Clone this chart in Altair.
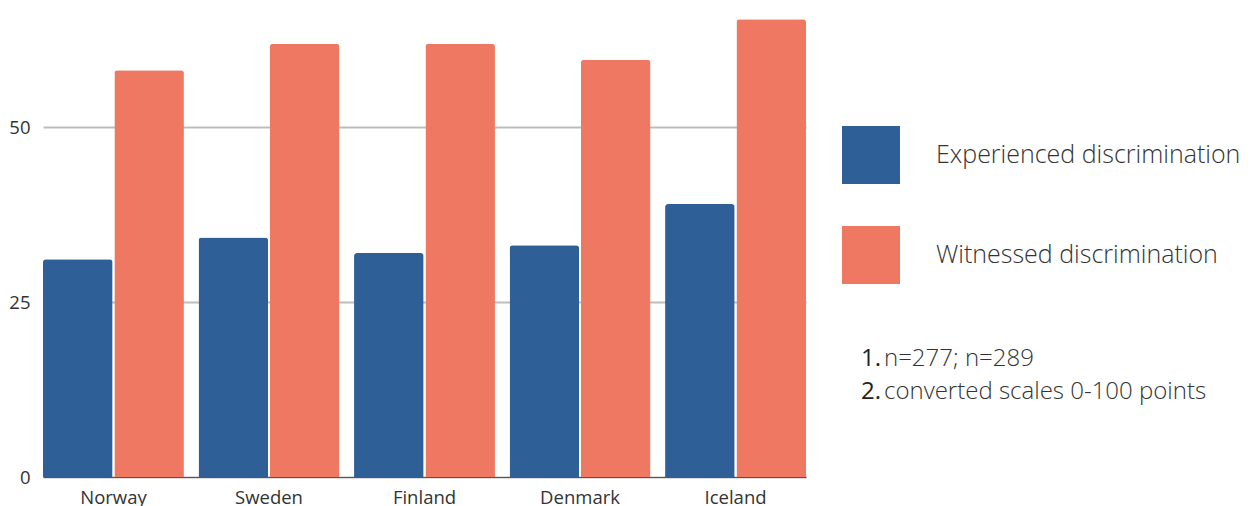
import altair as alt
import pandas as pd

countries = ["Norway", "Sweden", "Finland", "Denmark", "Iceland"]
series = ["Experienced discrimination", "Witnessed discrimination"]
experienced = [31.1, 34.2, 32.0, 33.1, 39.0]
witnessed = [58.1, 61.9, 61.9, 59.6, 65.4]
colors = ["#2e5f97", "#ef7862"]
y_ticks = [0, 25, 50]
footnote_nums = ["1.", "2."]
footnote_texts = ["n=277; n=289", "converted scales 0-100 points"]

rows = []
for c, e, w in zip(countries, experienced, witnessed):
    rows.append({"country": c, "series": series[0], "value": e})
    rows.append({"country": c, "series": series[1], "value": w})
df = pd.DataFrame(rows)

FONT = "Open Sans"

bars = alt.Chart(df).mark_bar(cornerRadiusTopLeft=3, cornerRadiusTopRight=3).encode(
    x=alt.X("country:N", sort=countries,
            scale=alt.Scale(paddingInner=0.094, paddingOuter=0),
            axis=alt.Axis(title=None, labelAngle=0, labelFontSize=18.5, labelColor="#333333",
                          labelFont=FONT, ticks=False, domainColor="#555555", domainWidth=1,
                          labelPadding=11, grid=False)),
    xOffset=alt.XOffset("series:N", sort=series,
                        scale=alt.Scale(paddingInner=0.025, paddingOuter=0)),
    y=alt.Y("value:Q", scale=alt.Scale(domain=[0, 67], nice=False),
            axis=alt.Axis(values=y_ticks, title=None, domain=False, ticks=False,
                          labelPadding=13, labelFontSize=18.5, labelColor="#333333",
                          labelFont=FONT, gridColor="#bdbdbd", gridWidth=1.8)),
    color=alt.Color("series:N", sort=series,
                    scale=alt.Scale(domain=series, range=colors),
                    legend=alt.Legend(title=None, orient="none", legendX=799, legendY=118,
                                      symbolType="square", symbolSize=3364,
                                      symbolStrokeWidth=0, labelFontSize=25,
                                      labelFont=FONT, labelColor="#333333",
                                      labelFontWeight=300,
                                      labelOffset=36, rowPadding=42, labelLimit=400,
                                      padding=0)),
)

layers = [bars]
ys = [351, 384]
for num, txt, yy in zip(footnote_nums, footnote_texts, ys):
    layers.append(alt.Chart(pd.DataFrame({"t": [num]})).mark_text(
        align="left", baseline="middle", fontSize=24, font=FONT, color="#222222"
    ).encode(text="t:N", x=alt.value(818), y=alt.value(yy)))
    layers.append(alt.Chart(pd.DataFrame({"t": [txt]})).mark_text(
        align="left", baseline="middle", fontSize=24, font=FONT, color="#333333",
        fontWeight=300
    ).encode(text="t:N", x=alt.value(841), y=alt.value(yy)))

chart = alt.layer(*layers).properties(
    width=763, height=469, padding=0, background="white"
).configure_view(stroke=None)

chart.save("out.html", embed_options={"renderer": "svg", "actions": False})
